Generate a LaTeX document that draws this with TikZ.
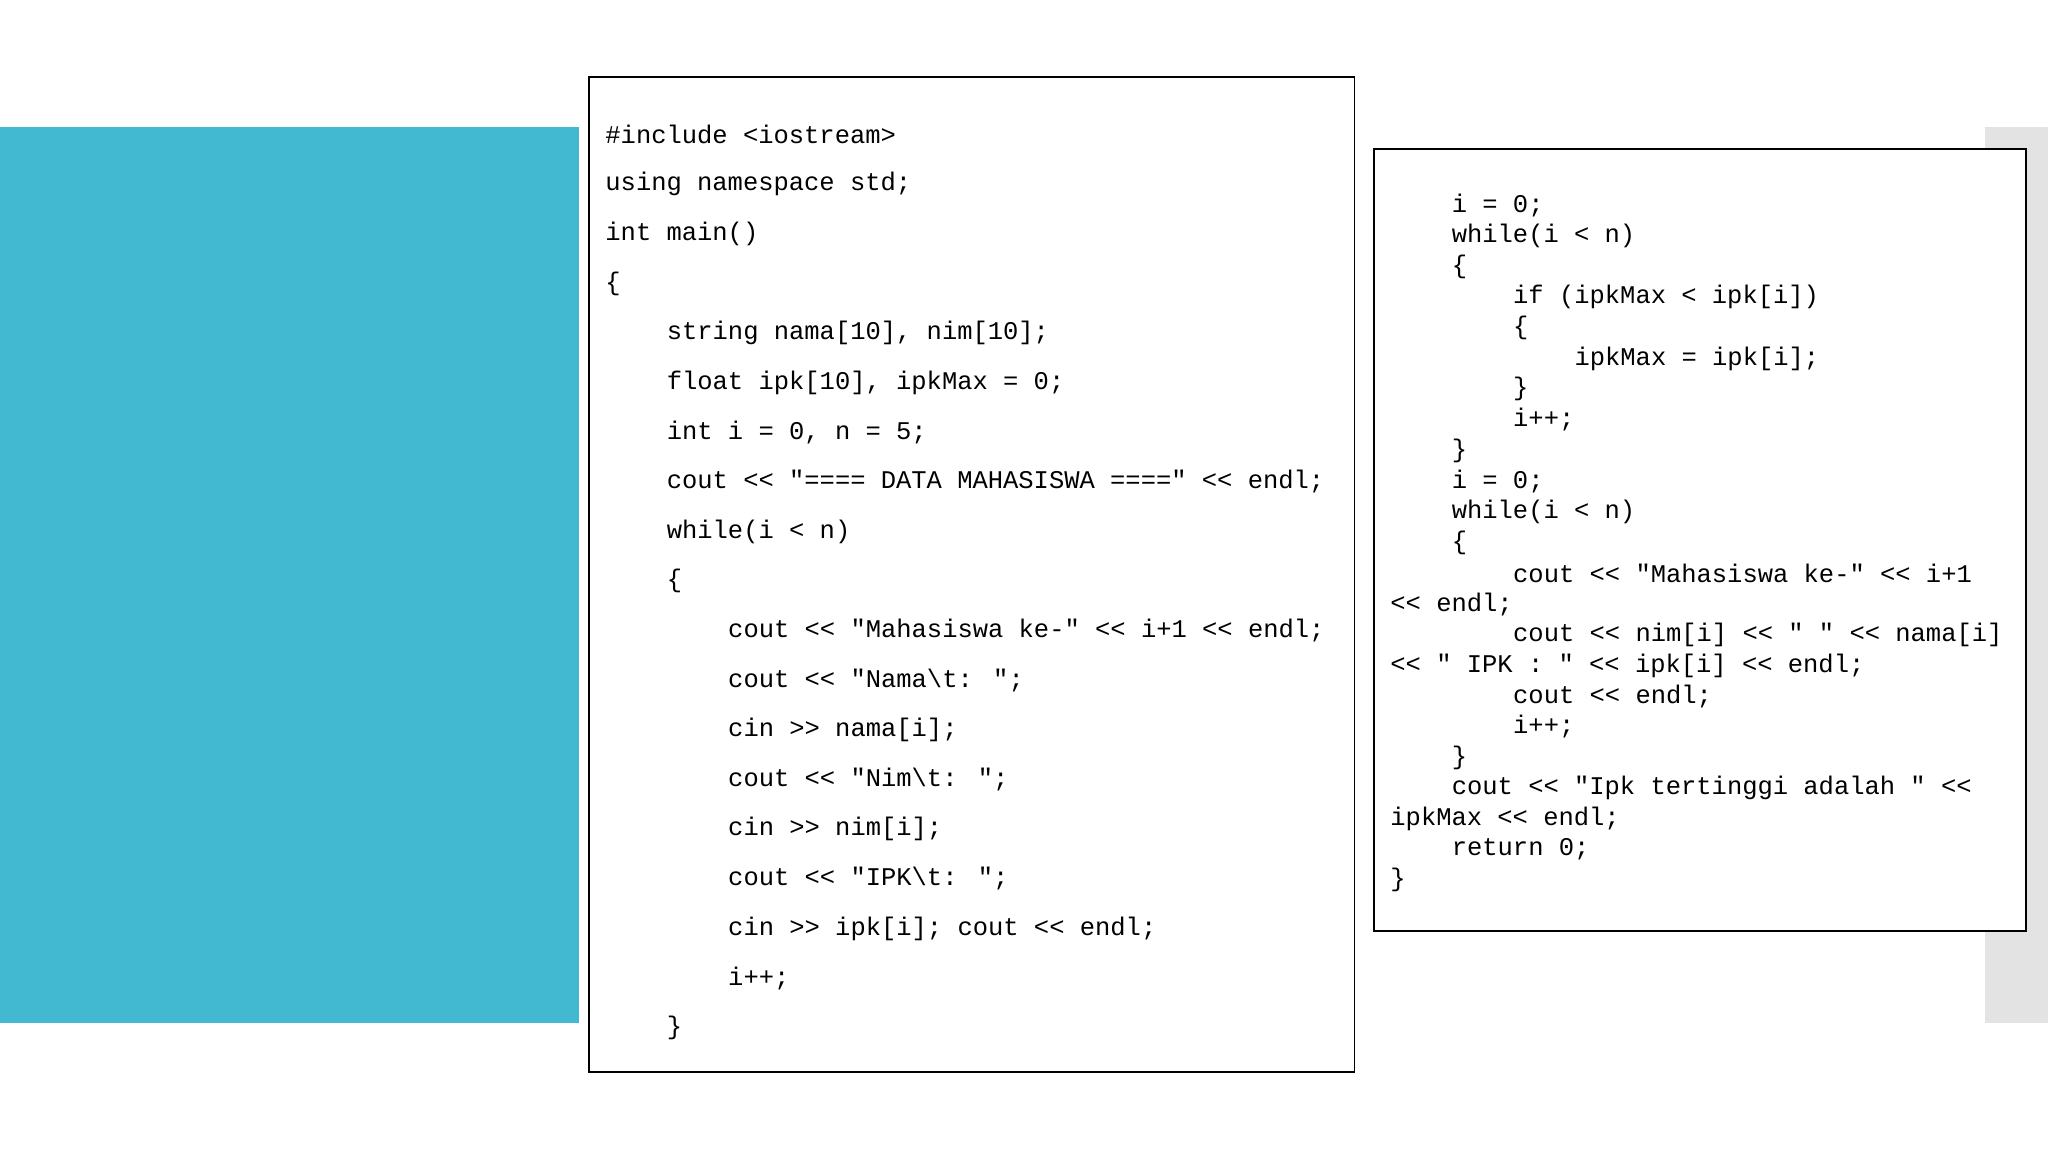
\documentclass[tikz,border=0pt]{standalone}
\usepackage{fontspec}
\newfontfamily\codefont{Liberation Mono}
\definecolor{blu}{HTML}{42B8D1}
\definecolor{gry}{HTML}{E3E3E3}
\newcommand\cl[4]{\node[code] (#1) at (#2,#3) {#4};}
\tikzset{code/.style={anchor=west,inner sep=0pt,font=\codefont\fontsize{7.25pt}{8pt}\selectfont},
 box/.style={draw=black,line width=0.5pt,fill=white}}
\begin{document}
\begin{tikzpicture}[x=0.013061cm,y=-0.013061cm]
\useasboundingbox (0,0) rectangle (1568,882);
\fill[blu] (0,97) rectangle (443,783);
\fill[gry] (1520,97) rectangle (1568,783);
\draw[box] (451,59) rectangle (1037,821);
\draw[box] (1052,114) rectangle (1551,713);
\cl{a1}{463}{103}{\#include <iostream>}
\cl{a2}{463}{141}{using namespace std;}
\cl{a3}{463}{179}{int main()}
\cl{a4}{463}{217}{\{}
\cl{a5}{510}{255}{string nama[10], nim[10];}
\cl{a6}{510}{293}{float ipk[10], ipkMax = 0;}
\cl{a7}{510}{331}{int i = 0, n = 5;}
\cl{a8}{510}{369}{cout << "==== DATA MAHASISWA ====" << endl;}
\cl{a9}{510}{407}{while(i < n)}
\cl{a10}{510}{445}{\{}
\cl{a11}{557}{483}{cout << "Mahasiswa ke-" << i+1 << endl;}
\cl{a12}{557}{521}{cout << "Nama\textbackslash t: ";}
\cl{a13}{557}{559}{cin >> nama[i];}
\cl{a14}{557}{597}{cout << "Nim\textbackslash t: ";}
\cl{a15}{557}{635}{cin >> nim[i];}
\cl{a16}{557}{673}{cout << "IPK\textbackslash t: ";}
\cl{a17}{557}{711}{cin >> ipk[i]; cout << endl;}
\cl{a18}{557}{749}{i++;}
\cl{a19}{510}{787}{\}}
\cl{b1}{1111}{157.0}{i = 0;}
\cl{b2}{1111}{180.5}{while(i < n)}
\cl{b3}{1111}{204.0}{\{}
\cl{b4}{1158}{227.5}{if (ipkMax < ipk[i])}
\cl{b5}{1158}{251.0}{\{}
\cl{b6}{1205}{274.5}{ipkMax = ipk[i];}
\cl{b7}{1158}{298.0}{\}}
\cl{b8}{1158}{321.5}{i++;}
\cl{b9}{1111}{345.0}{\}}
\cl{b10}{1111}{368.5}{i = 0;}
\cl{b11}{1111}{392.0}{while(i < n)}
\cl{b12}{1111}{415.5}{\{}
\cl{b13}{1158}{439.0}{cout << "Mahasiswa ke-" << i+1}
\cl{b14}{1064}{462.5}{<< endl;}
\cl{b15}{1158}{486.0}{cout << nim[i] << " " << nama[i]}
\cl{b16}{1064}{509.5}{<< " IPK : " << ipk[i] << endl;}
\cl{b17}{1158}{533.0}{cout << endl;}
\cl{b18}{1158}{556.5}{i++;}
\cl{b19}{1111}{580.0}{\}}
\cl{b20}{1111}{603.5}{cout << "Ipk tertinggi adalah " <<}
\cl{b21}{1064}{627.0}{ipkMax << endl;}
\cl{b22}{1111}{650.5}{return 0;}
\cl{b23}{1064}{674.0}{\}}
\end{tikzpicture}
\end{document}
